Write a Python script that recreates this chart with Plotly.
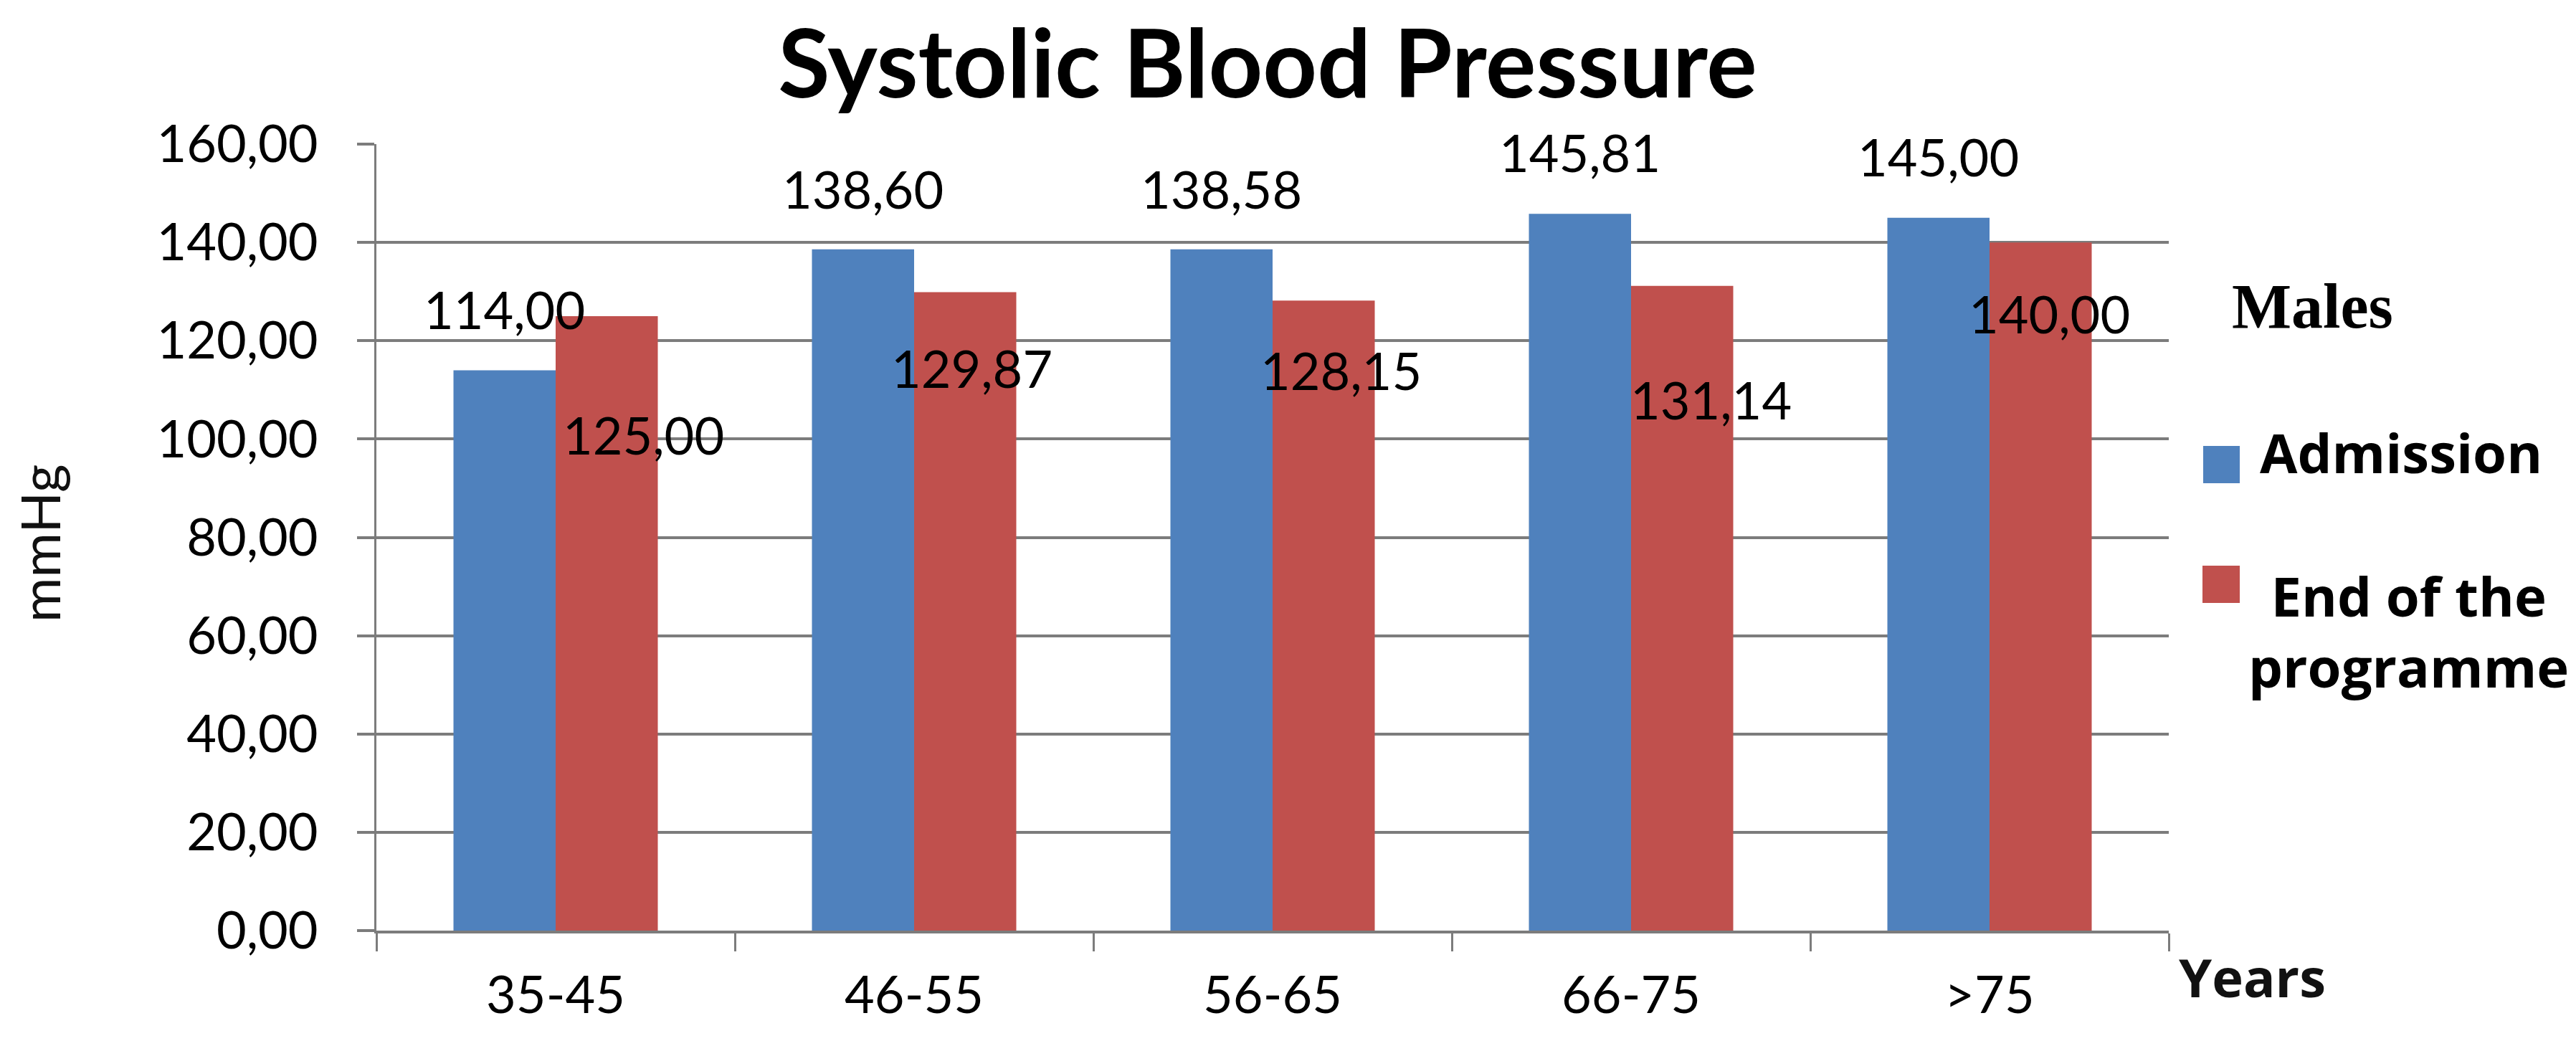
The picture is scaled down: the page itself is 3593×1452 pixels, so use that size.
import plotly.graph_objects as go

# ---------------- data ----------------
categories = ["35-45", "46-55", "56-65", "66-75", ">75"]
series_names = ["Admission", "End of the programme"]
admission = [114.00, 138.60, 138.58, 145.81, 145.00]
end_of_programme = [125.00, 129.87, 128.15, 131.14, 140.00]
y_ticks = [0, 20, 40, 60, 80, 100, 120, 140, 160]

# ---------------- styling / layout constants ----------------
W, H = 3593, 1452
L, R, T, B = 525, 3025, 201, 1298          # plot-area pixel box
BLUE = "#4F81BD"
RED = "#C0504D"
GRID = "#7C7C7C"
BARGAP = 0.43
LABEL_FONT = dict(family="Lato", size=72, color="black")

# label placement (pixel offsets from the top-centre of each bar)
blue_label_dx = [0, 0, 0, 0, 0]
blue_label_dy = [85, 85, 85, 86, 86]
red_label_dx = [51, 9, 24, 40, 12]
red_label_dy = [-165, -105, -97, -158, -99]


def pxx(x):
    return (x - L) / (R - L)


def pxy(y):
    return (B - y) / (B - T)


def fmt(v):
    return f"{v:.2f}".replace(".", ",")


fig = go.Figure()
fig.add_bar(x=categories, y=admission, name=series_names[0],
            marker=dict(color=BLUE, line=dict(width=0)))
fig.add_bar(x=categories, y=end_of_programme, name=series_names[1],
            marker=dict(color=RED, line=dict(width=0)))

# bar half offset in pixels (group of two bars centred on category)
cat_w = (R - L) / len(categories)
bar_w = cat_w * (1 - BARGAP) / 2
half = bar_w / 2

annotations = []
for i, c in enumerate(categories):
    annotations.append(dict(
        x=c, y=admission[i], xref="x", yref="y", text=fmt(admission[i]),
        showarrow=False, xanchor="center", yanchor="middle",
        xshift=-half + blue_label_dx[i], yshift=blue_label_dy[i], font=LABEL_FONT))
    annotations.append(dict(
        x=c, y=end_of_programme[i], xref="x", yref="y", text=fmt(end_of_programme[i]),
        showarrow=False, xanchor="center", yanchor="middle",
        xshift=half + red_label_dx[i], yshift=red_label_dy[i], font=LABEL_FONT))

# y-axis title
annotations.append(dict(
    x=pxx(54), y=pxy(757), xref="paper", yref="paper", text="mmHg",
    textangle=-90, showarrow=False, xanchor="center", yanchor="middle",
    font=dict(family="Lato", size=76, color="#111111")))

# x-axis title
annotations.append(dict(
    x=pxx(3141), y=pxy(1362), xref="paper", yref="paper", text="Years",
    showarrow=False, xanchor="center", yanchor="middle",
    font=dict(family="Open Sans", size=74, color="#111111", weight="bold")))

# legend (drawn manually so that the symbols match the reference size)
annotations.append(dict(
    x=pxx(3111), y=pxy(427), xref="paper", yref="paper", text="Males",
    showarrow=False, xanchor="left", yanchor="middle",
    font=dict(family="Liberation Serif", size=88, color="black", weight="bold")))
legend_labels = [series_names[0], series_names[1].replace("the ", "the<br>")]
annotations.append(dict(
    x=pxx(3349), y=pxy(630), xref="paper", yref="paper", text=legend_labels[0],
    showarrow=False, xanchor="center", yanchor="middle", align="center",
    font=dict(family="Open Sans", size=76, color="black", weight="bold")))
annotations.append(dict(
    x=pxx(3360), y=pxy(880), xref="paper", yref="paper", text=legend_labels[1],
    showarrow=False, xanchor="center", yanchor="middle", align="center",
    font=dict(family="Open Sans", size=76, color="black", weight="bold")))

shapes = [
    dict(type="rect", xref="paper", yref="paper",
         x0=pxx(3073), x1=pxx(3124), y0=pxy(674), y1=pxy(622),
         fillcolor=BLUE, line=dict(width=0)),
    dict(type="rect", xref="paper", yref="paper",
         x0=pxx(3072), x1=pxx(3124), y0=pxy(841), y1=pxy(789),
         fillcolor=RED, line=dict(width=0)),
]

fig.update_layout(
    width=W, height=H, autosize=False,
    margin=dict(l=L, r=W - R, t=T, b=H - B, pad=0),
    paper_bgcolor="white", plot_bgcolor="white",
    barmode="group", bargap=BARGAP, bargroupgap=0,
    separators=",.",
    showlegend=False,
    title=dict(text="Systolic Blood Pressure", x=1768 / W, xref="container",
               xanchor="center", y=1 - 90 / H, yref="container", yanchor="middle",
               font=dict(family="Lato", size=132, color="black", weight="bold")),
    annotations=annotations,
    shapes=shapes,
)

fig.update_yaxes(
    range=[0, 160], tickvals=y_ticks, tickformat=".2f",
    showgrid=True, gridcolor=GRID, gridwidth=4,
    showline=True, linecolor=GRID, linewidth=3,
    ticks="outside", ticklen=24, tickwidth=4, tickcolor=GRID,
    zeroline=False, tickfont=LABEL_FONT, ticklabelstandoff=40,
    fixedrange=True,
)
fig.update_xaxes(
    showgrid=False, showline=True, linecolor=GRID, linewidth=4,
    ticks="outside", tickson="boundaries", ticklen=25, tickwidth=3, tickcolor=GRID,
    tickfont=LABEL_FONT, ticklabelstandoff=25, fixedrange=True,
)

fig.write_html("out.html",
               config={"displayModeBar": False},
               post_script="document.body.style.margin='0';document.body.style.overflow='hidden';")
